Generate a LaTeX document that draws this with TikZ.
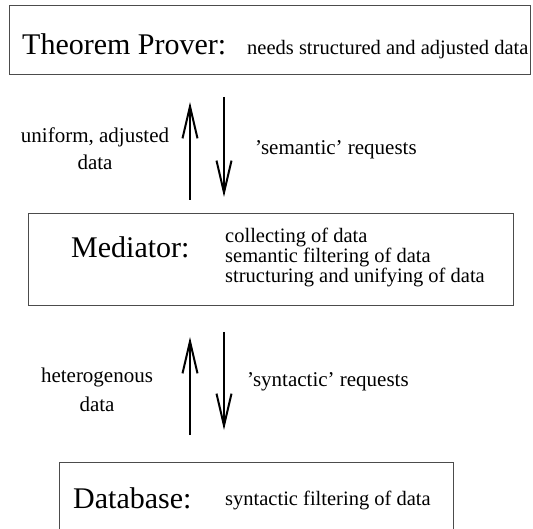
\documentclass[tikz,border=0pt]{standalone}
\usepackage{fontspec}
\setmainfont{Liberation Serif}
\usetikzlibrary{arrows.meta}
\begin{document}
\begin{tikzpicture}[x=1pt,y=-1pt,
  box/.style={draw=black!70, line width=1pt, inner sep=0pt},
  big/.style={font=\fontsize{30}{34}\selectfont, inner sep=0pt, anchor=base west},
  small/.style={font=\fontsize{20.5}{24}\selectfont, inner sep=0pt, anchor=base west},
  lab/.style={font=\fontsize{21}{25}\selectfont, inner sep=0pt, anchor=base},
  flow/.style={line width=2pt, -{Straight Barb[length=32pt,width=15pt,line width=2pt]}}]
\useasboundingbox (0,0) rectangle (533,529);
\begin{scope}
\clip (0,0) rectangle (533,529);
% boxes
\node[box, anchor=north west, minimum width=521pt, minimum height=69pt] (tp) at (9,5) {};
\node[box, anchor=north west, minimum width=485pt, minimum height=92pt] (med) at (28,213) {};
\node[box, anchor=north west, minimum width=394pt, minimum height=90pt] (db) at (59,462) {};
% box texts
\node[big] (tpt) at (22,55) {Theorem Prover:};
\node[small] (tps) at (247,55) {needs structured and adjusted data};
\node[big] (medt) at (71,258) {Mediator:};
\node[small] (m1) at (225,243) {collecting of data};
\node[small] (m2) at (225,263) {semantic filtering of data};
\node[small] (m3) at (225,283) {structuring and unifying of data};
\node[big] (dbt) at (73,508) {Database:};
\node[small] (dbs) at (225,505) {syntactic filtering of data};
% arrows
\coordinate (a1s) at (190,200); \coordinate (a1e) at (190,102);
\coordinate (a2s) at (224,97);  \coordinate (a2e) at (224,197);
\coordinate (a3s) at (190,435); \coordinate (a3e) at (190,337);
\coordinate (a4s) at (224,332); \coordinate (a4e) at (224,430);
\draw[flow] (a1s) -- (a1e);
\draw[flow] (a2s) -- (a2e);
\draw[flow] (a3s) -- (a3e);
\draw[flow] (a4s) -- (a4e);
% labels
\node[lab] (l1a) at (95,143) {uniform, adjusted};
\node[lab] (l1b) at (95,170) {data};
\node[lab, anchor=base west] (l2) at (255,155) {'semantic' requests};
\node[lab] (l3a) at (97,382) {heterogenous};
\node[lab] (l3b) at (97,411) {data};
\node[lab, anchor=base west] (l4) at (247,387) {'syntactic' requests};
\end{scope}
\end{tikzpicture}
\end{document}
